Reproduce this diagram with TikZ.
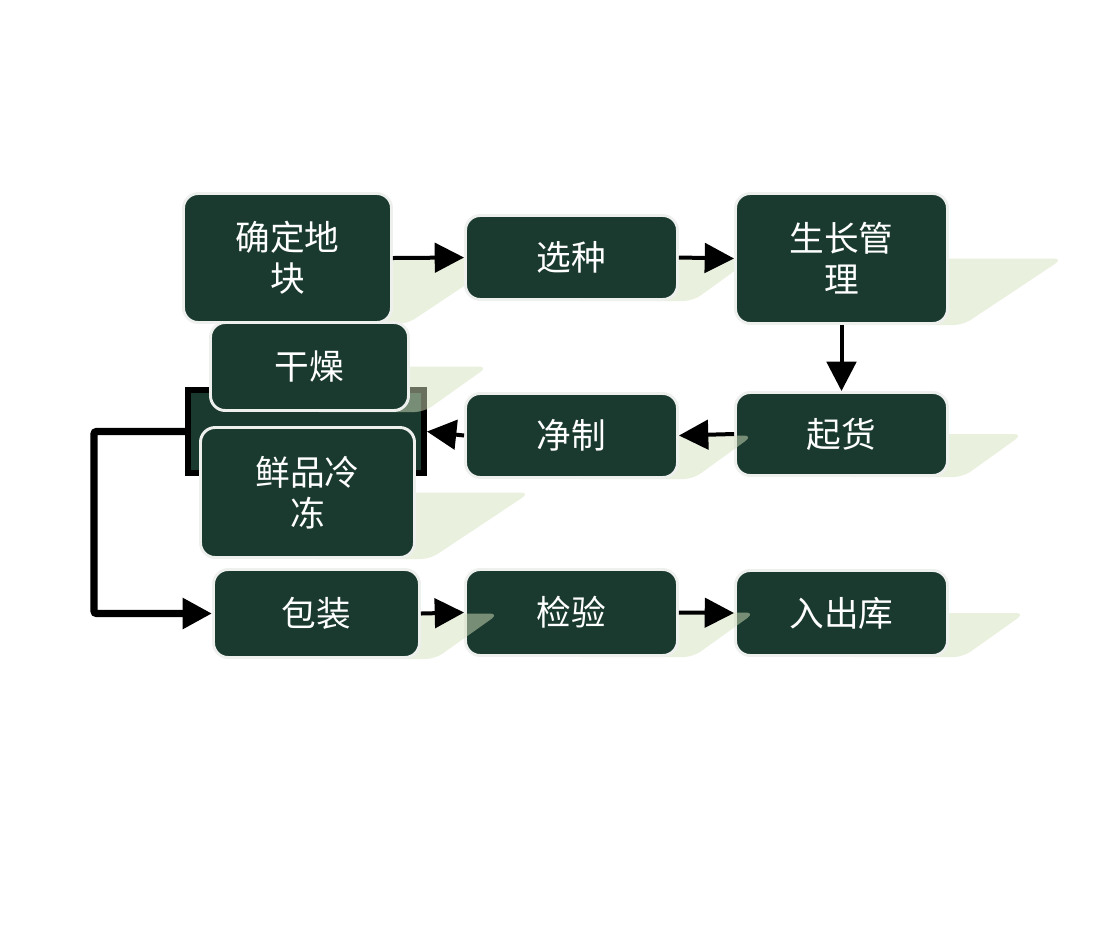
\documentclass[tikz,border=0pt]{standalone}
\usepackage{fontspec}
\newfontfamily\cjk{Noto Sans CJK SC}
\usetikzlibrary{arrows.meta}
\definecolor{boxgreen}{RGB}{27,58,47}
\definecolor{boxrim}{RGB}{238,240,238}
\definecolor{sdwgreen}{RGB}{211,225,189}

\tikzset{
  stepbox/.style={rectangle, rounded corners=11pt, fill=boxgreen, draw=boxrim,
    line width=2.2pt, text=white, align=center, inner sep=0pt,
    font=\cjk\fontsize{26}{31}\selectfont},
  sdw/.style={fill=sdwgreen, opacity=0.5, rounded corners=7pt},
  groupbox/.style={rectangle, fill=boxgreen, draw=black, line width=4.5pt},
  flow/.style={-{Triangle[length=22pt,width=22pt]}, line width=3pt},
  backflow/.style={-{Triangle[length=22pt,width=22pt]}, line width=5.5pt, rounded corners=2pt}
}

% shadow first, then the box: name, x, y, width, height, shadow reach, text
\newcommand{\stepnode}[7]{%
  \fill[sdw] (#2,#3) -- (#2+#4/2+#6,#3) -- (#2+#4/2+14,#3+#5/2) -- (#2,#3+#5/2) -- cycle;
  \node[stepbox, minimum width=(#4-3)*0.75pt, minimum height=(#5-3)*0.75pt] (#1) at (#2,#3) {#7};
}

\begin{document}
\begin{tikzpicture}[x=0.75pt,y=-0.75pt]
\useasboundingbox (0,0) rectangle (1110,926);

% first row
\stepnode{blk}{287.5}{258}{211}{132}{113}{确定地\\块}
\stepnode{xz}{571.5}{257.5}{215}{87}{74}{选种}
\stepnode{szgl}{841.5}{258.5}{215}{133}{114}{生长管\\理}

% second row
\stepnode{qh}{841.5}{434}{215}{86}{74}{起货}
\stepnode{jz}{571.5}{435.5}{215}{87}{74}{净制}
\node[groupbox, minimum width=236*0.75pt, minimum height=83*0.75pt] (grp) at (306,431.5) {};
\stepnode{gz}{309.5}{366.5}{201}{91}{78}{干燥}
\stepnode{xp}{307.5}{492.5}{217}{133}{114}{鲜品冷\\冻}

% third row
\stepnode{rck}{841.5}{613}{215}{88}{76}{入出库}
\stepnode{jy}{571.5}{612.5}{215}{89}{76}{检验}
\stepnode{bz}{316.5}{613.5}{209}{91}{78}{包装}

\draw[flow] (blk.east) -- (xz.west);
\draw[flow] (xz.east) -- (szgl.west);
\draw[flow] (szgl.south) -- (qh.north);
\draw[flow] (qh.west) -- (jz.east);
\draw[flow] (jz.west) -- (grp.east);
\draw[backflow] (grp.west) -- ++(-91,0) |- (bz.west);
\draw[flow] (bz.east) -- (jy.west);
\draw[flow] (jy.east) -- (rck.west);

\end{tikzpicture}
\end{document}
